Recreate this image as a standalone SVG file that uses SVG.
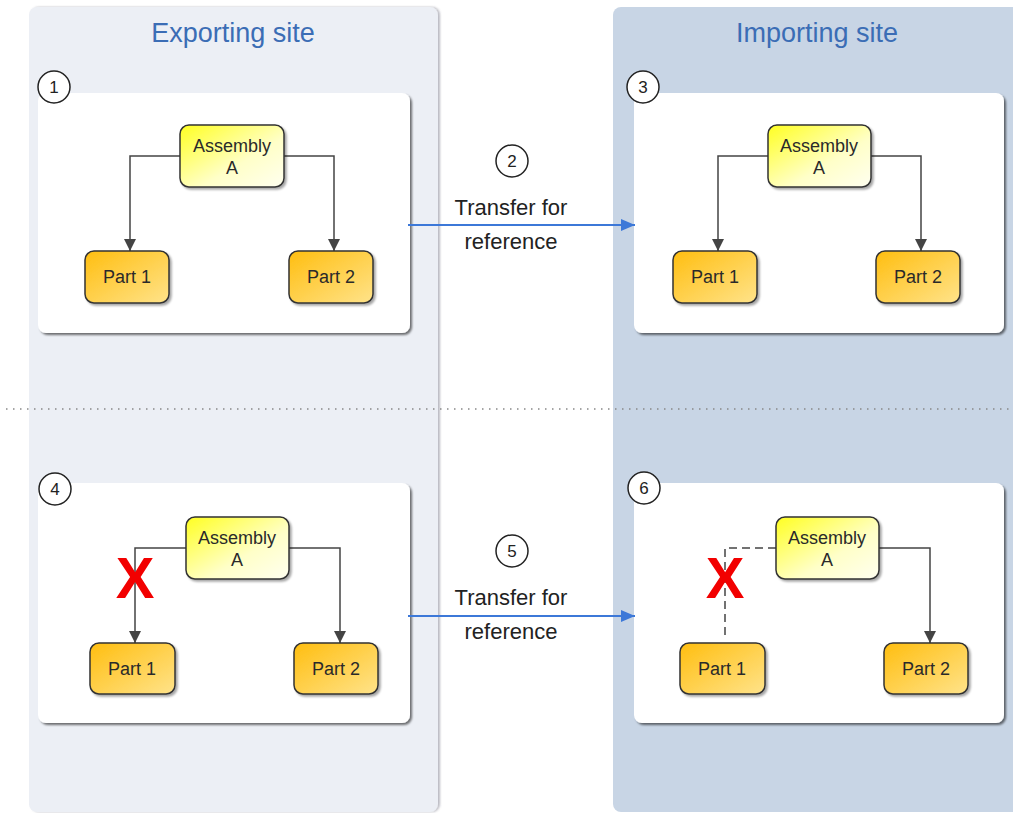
<svg xmlns="http://www.w3.org/2000/svg" width="1013" height="813" viewBox="0 0 1013 813">
<style>
.title{font-family:"Liberation Sans",Arial,sans-serif;font-size:27px;fill:#3B6DB5;text-anchor:middle}
.lbl{font-family:"Liberation Sans",Arial,sans-serif;font-size:18px;fill:#2A2A2A;text-anchor:middle}
.num{font-family:"Liberation Sans",Arial,sans-serif;font-size:17px;fill:#222;text-anchor:middle}
.tr{font-family:"Liberation Sans",Arial,sans-serif;font-size:22px;fill:#222;text-anchor:middle}
.xm{font-family:"Liberation Sans",Arial,sans-serif;font-size:58px;font-weight:bold;fill:#F20000;text-anchor:middle}
.card{fill:#fff;filter:url(#sh)}
.asm{fill:url(#gA);stroke:#333;stroke-width:1.5;filter:url(#sh2)}
.part{fill:url(#gP);stroke:#333;stroke-width:1.5;filter:url(#sh2)}
.circ{fill:#fff;stroke:#222;stroke-width:1.5}
.con{fill:none;stroke:#444;stroke-width:1.5}
.dash{fill:none;stroke:#444;stroke-width:1.5;stroke-dasharray:8 5}
.blue{fill:none;stroke:#3C78D8;stroke-width:2}
</style>
<defs>
<linearGradient id="gA" x1="0" y1="0" x2="1" y2="1"><stop offset="0" stop-color="#FFFF20"/><stop offset="0.6" stop-color="#FFFFC8"/><stop offset="1" stop-color="#FFFFF0"/></linearGradient>
<linearGradient id="gP" x1="0" y1="0" x2="1" y2="1"><stop offset="0" stop-color="#FFBE10"/><stop offset="1" stop-color="#FFE38A"/></linearGradient>
<filter id="sh" x="-5%" y="-5%" width="115%" height="115%"><feDropShadow dx="2" dy="2" stdDeviation="1" flood-color="#000" flood-opacity="0.55"/></filter>
<filter id="sh2" x="-10%" y="-10%" width="130%" height="130%"><feDropShadow dx="2" dy="2" stdDeviation="1.2" flood-color="#000" flood-opacity="0.35"/></filter>
<filter id="sh3" x="-5%" y="-5%" width="115%" height="115%"><feDropShadow dx="2" dy="0" stdDeviation="1.2" flood-color="#556" flood-opacity="0.4"/></filter>
<marker id="ah" viewBox="0 0 12 12" refX="12" refY="6" markerWidth="12" markerHeight="12" markerUnits="userSpaceOnUse" orient="auto"><path d="M0,0 L12,6 L0,12 Z" fill="#444"/></marker>
<marker id="bh" viewBox="0 0 14 12" refX="14" refY="6" markerWidth="14" markerHeight="12" markerUnits="userSpaceOnUse" orient="auto"><path d="M0,0 L14,6 L0,12 Z" fill="#3C78D8"/></marker>
</defs>

<g id="lanes">
<rect x="29" y="7" width="409" height="805" rx="8" fill="#ECEFF5" filter="url(#sh3)"/>
<rect x="613" y="7" width="420" height="805" rx="8" fill="#C8D5E5"/>
<text class="title" x="233" y="42">Exporting site</text>
<text class="title" x="817" y="42">Importing site</text>
</g>

<line x1="6" y1="409" x2="1013" y2="409" stroke="#888" stroke-width="1.5" stroke-dasharray="1.5 5.5"/>

<g id="step1">
<rect class="card" x="38" y="93" width="372" height="240" rx="8"/>
<circle class="circ" cx="54" cy="87" r="16"/><text class="num" x="54" y="93">1</text>
</g>
<g id="step3">
<rect class="card" x="634" y="93" width="370" height="240" rx="8"/>
<circle class="circ" cx="643" cy="87" r="16"/><text class="num" x="643" y="93">3</text>
</g>
<g id="step4">
<rect class="card" x="38" y="483" width="372" height="240" rx="8"/>
<circle class="circ" cx="55" cy="489" r="16"/><text class="num" x="55" y="495">4</text>
</g>
<g id="step6">
<rect class="card" x="634" y="483" width="370" height="240" rx="8"/>
<circle class="circ" cx="644" cy="488" r="16"/><text class="num" x="644" y="494">6</text>
</g>

<g id="connectors">
<path class="con" d="M180,156 H130 V251" marker-end="url(#ah)"/>
<path class="con" d="M284,156 H334 V251" marker-end="url(#ah)"/>
<path class="con" d="M768,156 H718 V251" marker-end="url(#ah)"/>
<path class="con" d="M871,156 H921 V251" marker-end="url(#ah)"/>
<path class="con" d="M186,548 H135 V643" marker-end="url(#ah)"/>
<path class="con" d="M289,548 H340 V643" marker-end="url(#ah)"/>
<path class="dash" d="M776,548 H725 V636"/>
<path class="con" d="M879,548 H930 V643" marker-end="url(#ah)"/>
<line class="blue" x1="408" y1="225" x2="635" y2="225" marker-end="url(#bh)"/>
<line class="blue" x1="408" y1="616" x2="635" y2="616" marker-end="url(#bh)"/>
</g>

<g id="step2">
<circle class="circ" cx="512" cy="161" r="16"/><text class="num" x="512" y="167">2</text>
<text class="tr" x="511" y="215">Transfer for</text>
<text class="tr" x="511" y="249">reference</text>
</g>
<g id="step5">
<circle class="circ" cx="512" cy="551" r="16"/><text class="num" x="512" y="557">5</text>
<text class="tr" x="511" y="605">Transfer for</text>
<text class="tr" x="511" y="639">reference</text>
</g>

<g id="asm1"><rect class="asm" x="180" y="125" width="104" height="62" rx="9"/><text class="lbl" x="232" y="152">Assembly</text><text class="lbl" x="232" y="174">A</text></g>
<g id="p1a"><rect class="part" x="85" y="251" width="84" height="52" rx="9"/><text class="lbl" x="127" y="283">Part 1</text></g>
<g id="p2a"><rect class="part" x="289" y="251" width="84" height="52" rx="9"/><text class="lbl" x="331" y="283">Part 2</text></g>

<g id="asm3"><rect class="asm" x="768" y="125" width="103" height="62" rx="9"/><text class="lbl" x="819" y="152">Assembly</text><text class="lbl" x="819" y="174">A</text></g>
<g id="p1c"><rect class="part" x="673" y="251" width="84" height="52" rx="9"/><text class="lbl" x="715" y="283">Part 1</text></g>
<g id="p2c"><rect class="part" x="876" y="251" width="84" height="52" rx="9"/><text class="lbl" x="918" y="283">Part 2</text></g>

<g id="asm4"><rect class="asm" x="186" y="517" width="103" height="62" rx="9"/><text class="lbl" x="237" y="544">Assembly</text><text class="lbl" x="237" y="566">A</text></g>
<g id="p1d"><rect class="part" x="90" y="643" width="85" height="51" rx="9"/><text class="lbl" x="132" y="675">Part 1</text></g>
<g id="p2d"><rect class="part" x="294" y="643" width="84" height="51" rx="9"/><text class="lbl" x="336" y="675">Part 2</text></g>
<text class="xm" x="135" y="598">X</text>

<g id="asm6"><rect class="asm" x="776" y="517" width="103" height="62" rx="9"/><text class="lbl" x="827" y="544">Assembly</text><text class="lbl" x="827" y="566">A</text></g>
<g id="p1f"><rect class="part" x="680" y="643" width="85" height="51" rx="9"/><text class="lbl" x="722" y="675">Part 1</text></g>
<g id="p2f"><rect class="part" x="884" y="643" width="84" height="51" rx="9"/><text class="lbl" x="926" y="675">Part 2</text></g>
<text class="xm" x="725" y="598">X</text>
</svg>
